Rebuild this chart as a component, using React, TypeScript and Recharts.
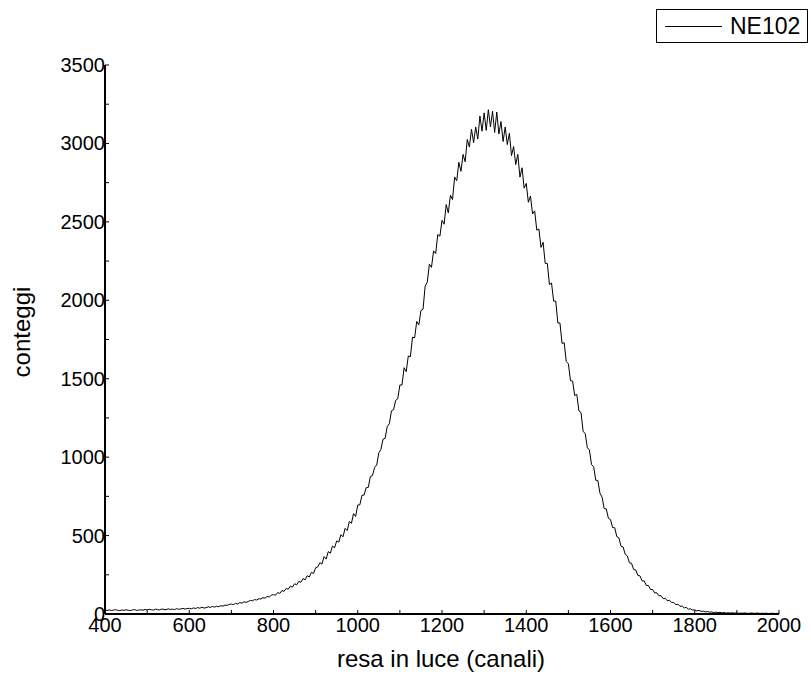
import { Label, Legend, Line, LineChart, XAxis, YAxis } from 'recharts';

const FONT = '"Liberation Sans", Arial, sans-serif';

// spectrum binned every 5 channels, starting at channel 400
const FIRST_CHANNEL = 400;
const BIN = 5;

const c400 = [27, 23, 26, 22, 25, 28, 24, 21, 26, 23, 27, 24, 22, 26, 28, 23, 25, 27, 24, 29];
const c500 = [26, 30, 27, 25, 31, 28, 26, 32, 29, 27, 33, 29, 31, 28, 34, 30, 32, 36, 31, 35];
const c600 = [36, 33, 39, 35, 41, 37, 43, 38, 40, 46, 42, 48, 44, 49, 47, 53, 50, 57, 55, 61];
const c700 = [63, 60, 68, 64, 73, 69, 78, 74, 80, 86, 84, 92, 89, 97, 96, 104, 101, 112, 108, 120];
const c800 = [124, 120, 137, 131, 150, 144, 163, 158, 178, 171, 193, 186, 208, 202, 226, 218, 244, 236, 266, 258];
const c900 = [295, 300, 327, 318, 366, 350, 398, 388, 433, 422, 466, 458, 506, 492, 546, 532, 590, 578, 640, 622];
const c1000 = [695, 696, 757, 758, 805, 807, 877, 882, 935, 950, 1028, 1049, 1114, 1120, 1195, 1213, 1295, 1302, 1362, 1372];
const c1100 = [1460, 1460, 1570, 1545, 1645, 1640, 1765, 1760, 1865, 1843, 1935, 1943, 2090, 2115, 2230, 2210, 2315, 2298, 2420, 2408];
const c1200 = [2510, 2485, 2610, 2557, 2670, 2642, 2785, 2762, 2880, 2822, 2930, 2883, 3025, 2977, 3090, 3005, 3105, 3028, 3175, 3078];
const c1300 = [3195, 3083, 3215, 3105, 3205, 3070, 3200, 3060, 3140, 3012, 3105, 2993, 3065, 2922, 2980, 2865, 2930, 2785, 2845, 2715];
const c1400 = [2745, 2625, 2665, 2550, 2570, 2447, 2455, 2337, 2370, 2235, 2235, 2100, 2110, 1995, 1995, 1855, 1855, 1725, 1730, 1610];
const c1500 = [1595, 1488, 1485, 1393, 1400, 1295, 1285, 1165, 1150, 1060, 1045, 952, 940, 853, 850, 770, 745, 672, 670, 610];
const c1600 = [602, 551, 550, 493, 485, 432, 427, 380, 370, 326, 323, 283, 281, 246, 243, 211, 211, 182, 182, 156];
const c1700 = [156, 134, 135, 116, 117, 98, 100, 84, 88, 73, 74, 59, 63, 49, 51, 39, 42, 31, 33, 25];
const c1800 = [26, 20, 23, 17, 18, 13, 16, 12, 13, 9, 12, 8, 10, 7, 10, 6, 8, 6, 8, 5];
const c1900 = [7, 4, 6, 5, 7, 4, 5, 6, 4, 5, 6, 3, 5, 4, 5, 3, 4, 5, 3, 4, 4];

const counts = [
  ...c400, ...c500, ...c600, ...c700, ...c800, ...c900, ...c1000, ...c1100,
  ...c1200, ...c1300, ...c1400, ...c1500, ...c1600, ...c1700, ...c1800, ...c1900,
];

const xTicks = [400, 500, 600, 700, 800, 900, 1000, 1100, 1200, 1300, 1400, 1500, 1600, 1700, 1800, 1900, 2000];
const yTicks = [0, 250, 500, 750, 1000, 1250, 1500, 1750, 2000, 2250, 2500, 2750, 3000, 3250, 3500];

const data = counts.map((n, i) => ({ ch: FIRST_CHANNEL + i * BIN, NE102: n }));

function YTick(props: any) {
  const { x, y, payload } = props;
  return (
    <g>
      <line x1={x} x2={x + 4} y1={y} y2={y} stroke="#000" strokeWidth={1} />
      {payload.value % 500 === 0 && (
        <text x={x} y={y} dy={7} textAnchor="end" fontSize={20} fontFamily={FONT} fill="#000">
          {payload.value}
        </text>
      )}
    </g>
  );
}

function XTick(props: any) {
  const { x, y, payload } = props;
  return (
    <g>
      <line x1={x} x2={x} y1={y} y2={y - 4} stroke="#000" strokeWidth={1} />
      {payload.value % 200 === 0 && (
        <text x={x} y={y} dy={18} textAnchor="middle" fontSize={20} fontFamily={FONT} fill="#000">
          {payload.value}
        </text>
      )}
    </g>
  );
}

function LegendBox(props: any) {
  const item = props.payload && props.payload[0];
  return (
    <div
      style={{
        boxSizing: 'border-box',
        border: '1px solid #000',
        height: 34,
        display: 'flex',
        alignItems: 'center',
        background: '#fff',
      }}
    >
      <span style={{ width: 57, borderTop: '1px solid #000', marginLeft: 8, marginRight: 8 }} />
      <span style={{ fontFamily: FONT, fontSize: 23, color: '#000', lineHeight: '34px' }}>
        {item ? item.value : 'NE102'}
      </span>
    </div>
  );
}

export default function App() {
  return (
    <div style={{ position: 'absolute', left: 0, top: 0, background: '#fff' }}>
      <LineChart width={811} height={674} data={data} margin={{ top: 65, right: 32, left: 0, bottom: 0 }}>
        <XAxis
          dataKey="ch"
          type="number"
          domain={[400, 2000]}
          ticks={xTicks}
          interval={0}
          height={60}
          tickSize={0}
          tickMargin={0}
          tickLine={false}
          tick={<XTick />}
          axisLine={{ stroke: '#000', strokeWidth: 2 }}
        >
          <Label
            content={() => (
              <text x={441} y={667} textAnchor="middle" fontSize={24} fontFamily={FONT} fill="#000">
                resa in luce (canali)
              </text>
            )}
          />
        </XAxis>
        <YAxis
          type="number"
          domain={[0, 3500]}
          ticks={yTicks}
          interval={0}
          width={105}
          tickSize={0}
          tickMargin={0}
          tickLine={false}
          tick={<YTick />}
          axisLine={{ stroke: '#000', strokeWidth: 2 }}
        >
          <Label
            content={() => (
              <text
                x={30}
                y={332}
                transform="rotate(-90 30 332)"
                textAnchor="middle"
                fontSize={24}
                fontFamily={FONT}
                fill="#000"
              >
                conteggi
              </text>
            )}
          />
        </YAxis>
        <Legend
          layout="vertical"
          align="center"
          verticalAlign="middle"
          wrapperStyle={{ top: 9, left: 656, width: 152 }}
          content={<LegendBox />}
        />
        <Line
          type="linear"
          dataKey="NE102"
          stroke="#000"
          strokeWidth={1}
          dot={false}
          activeDot={false}
          isAnimationActive={false}
        />
      </LineChart>
    </div>
  );
}
